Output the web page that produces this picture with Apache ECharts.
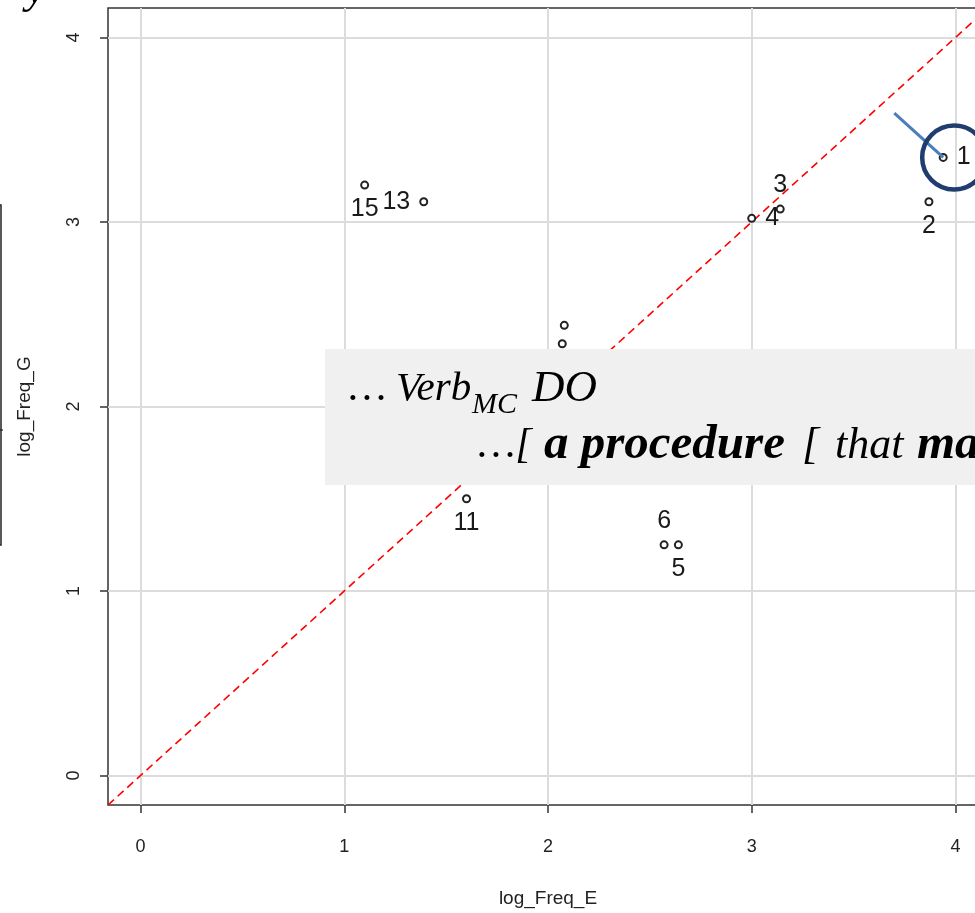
<!DOCTYPE html>
<html>
<head>
<meta charset="utf-8">
<title>log_Freq_E vs log_Freq_G</title>
<script src="https://cdn.jsdelivr.net/npm/echarts@6/dist/echarts.min.js"></script>
<style>
  html, body { margin: 0; padding: 0; background: #fff; }
  #chart { width: 975px; height: 913px; }
</style>
</head>
<body>
<div id="chart"></div>
<script>
// Item numbers and their log frequencies (E on x, G on y)
const ids      = ['1',  '2',  '3',  '4',  '13', '15', '',   '',   '11', '6',  '5'];
const logFreqE = [3.94, 3.87, 3.14, 3.00, 1.39, 1.10, 2.08, 2.07, 1.60, 2.57, 2.64];
const logFreqG = [3.35, 3.11, 3.07, 3.02, 3.11, 3.20, 2.44, 2.34, 1.50, 1.25, 1.25];
const labelSide = ['right', 'bottom', 'top', 'right', 'left', 'bottom', 'bottom', 'bottom', 'bottom', 'top', 'bottom'];

// Axis extent and ticks
const axisMin = -0.16;
const axisMax = 4.16;
const tickValues = [0, 1, 2, 3, 4];
const tickLabels = ['0', '1', '2', '3', '4'];

// Callout pointing at item 1
const calloutStart = [3.70, 3.59];

const sans = '"Liberation Sans", Arial, sans-serif';
const serif = '"Liberation Serif", "Times New Roman", serif';

const points = logFreqE.map((x, i) => ({
  value: [x, logFreqG[i]],
  name: ids[i],
  label: { position: labelSide[i], distance: labelSide[i] === 'top' ? 7 : (labelSide[i] === 'bottom' ? 7 : 9) }
}));

const chart = echarts.init(document.getElementById('chart'), null, { renderer: 'canvas' });

function axisCommon(isY) {
  return {
    type: 'value',
    min: axisMin,
    max: axisMax,
    axisLine: { show: false, onZero: false },
    axisTick: {
      show: true, inside: false, length: 8,
      customValues: tickValues,
      lineStyle: { color: '#333', width: 1.5 }
    },
    axisLabel: {
      customValues: tickValues,
      formatter: v => tickLabels[tickValues.indexOf(Math.round(v))],
      fontFamily: sans, fontSize: 18, color: '#222',
      margin: isY ? 25 : 33,
      rotate: isY ? 90 : 0
    },
    splitLine: { show: true, lineStyle: { color: '#dcdcdc', width: 2 } },
    nameLocation: 'middle',
    nameTextStyle: { fontFamily: sans, fontSize: 19, color: '#222' }
  };
}

const option = {
  animation: false,
  backgroundColor: '#ffffff',
  grid: {
    left: 108, top: 8, width: 880, height: 797,
    outerBoundsMode: 'none',
    containLabel: false,
    show: true, borderColor: '#333', borderWidth: 1.5, backgroundColor: 'transparent'
  },
  xAxis: Object.assign(axisCommon(false), { name: 'log_Freq_E', nameGap: 84 }),
  yAxis: Object.assign(axisCommon(true), { name: 'log_Freq_G', nameGap: 74, nameRotate: 90 }),
  series: [
    {
      // identity reference line
      type: 'line',
      data: [[axisMin, axisMin], [axisMax, axisMax]],
      symbol: 'none',
      lineStyle: { color: '#ff0000', width: 1.6, type: [8, 5] },
      z: 2
    },
    {
      type: 'scatter',
      data: points,
      symbol: 'emptyCircle',
      symbolSize: 7,
      itemStyle: { color: '#222', borderColor: '#222', borderWidth: 1.4, opacity: 1 },
      label: {
        show: true,
        formatter: p => p.name,
        fontFamily: sans, fontSize: 25, color: '#1a1a1a'
      },
      z: 3
    },
    {
      // callout line to item 1
      type: 'line',
      data: [calloutStart, [logFreqE[0], logFreqG[0]]],
      symbol: 'none',
      lineStyle: { color: '#4a7ebb', width: 3 },
      z: 4
    },
    {
      // ring around item 1
      type: 'scatter',
      data: [[logFreqE[0], logFreqG[0]]],
      symbol: 'circle',
      symbolSize: 64,
      symbolOffset: [11, 0],
      itemStyle: { color: 'rgba(0,0,0,0)', borderColor: '#1f3d6e', borderWidth: 4.5, opacity: 1 },
      silent: true,
      z: 5
    }
  ],
  graphic: [
    {
      type: 'rect', z: 100,
      shape: { x: 325, y: 349, width: 700, height: 136 },
      style: { fill: '#f0f0f0' }
    },
    { type: 'text', z: 101, x: 349, y: 389, style: { text: '…', font: 'italic 42px ' + serif, fill: '#000', verticalAlign: 'middle' } },
    { type: 'text', z: 101, x: 396, y: 389, style: { text: 'Verb', font: 'italic 41px ' + serif, fill: '#000', verticalAlign: 'middle' } },
    { type: 'text', z: 101, x: 472, y: 405, style: { text: 'MC', font: 'italic 30px ' + serif, fill: '#000', verticalAlign: 'middle' } },
    { type: 'text', z: 101, x: 532, y: 389, style: { text: 'DO', font: 'italic 45px ' + serif, fill: '#000', verticalAlign: 'middle' } },
    { type: 'text', z: 101, x: 478, y: 446, style: { text: '…[', font: 'italic 42px ' + serif, fill: '#000', verticalAlign: 'middle' } },
    { type: 'text', z: 101, x: 544, y: 445, style: { text: 'a procedure', font: 'italic bold 49px ' + serif, fill: '#000', verticalAlign: 'middle' } },
    { type: 'text', z: 101, x: 802, y: 446, style: { text: '[', font: 'italic 44px ' + serif, fill: '#000', verticalAlign: 'middle' } },
    { type: 'text', z: 101, x: 835, y: 446, style: { text: 'that', font: 'italic 44px ' + serif, fill: '#000', verticalAlign: 'middle' } },
    { type: 'text', z: 101, x: 917, y: 445, style: { text: 'ma', font: 'italic bold 49px ' + serif, fill: '#000', verticalAlign: 'middle' } },
    { type: 'text', z: 101, x: 26, y: -9, style: { text: 'y', font: 'italic 44px ' + serif, fill: '#000', verticalAlign: 'middle' } },
    {
      type: 'polyline', z: 101,
      shape: { points: [[-6, 205], [1, 205], [1, 545], [-6, 545]] },
      style: { stroke: '#222', lineWidth: 1.5, fill: null }
    },
    {
      type: 'line', z: 101,
      shape: { x1: -2, y1: 430, x2: 3, y2: 430 },
      style: { stroke: '#222', lineWidth: 1.2 }
    }
  ]
};

chart.setOption(option);
</script>
</body>
</html>
